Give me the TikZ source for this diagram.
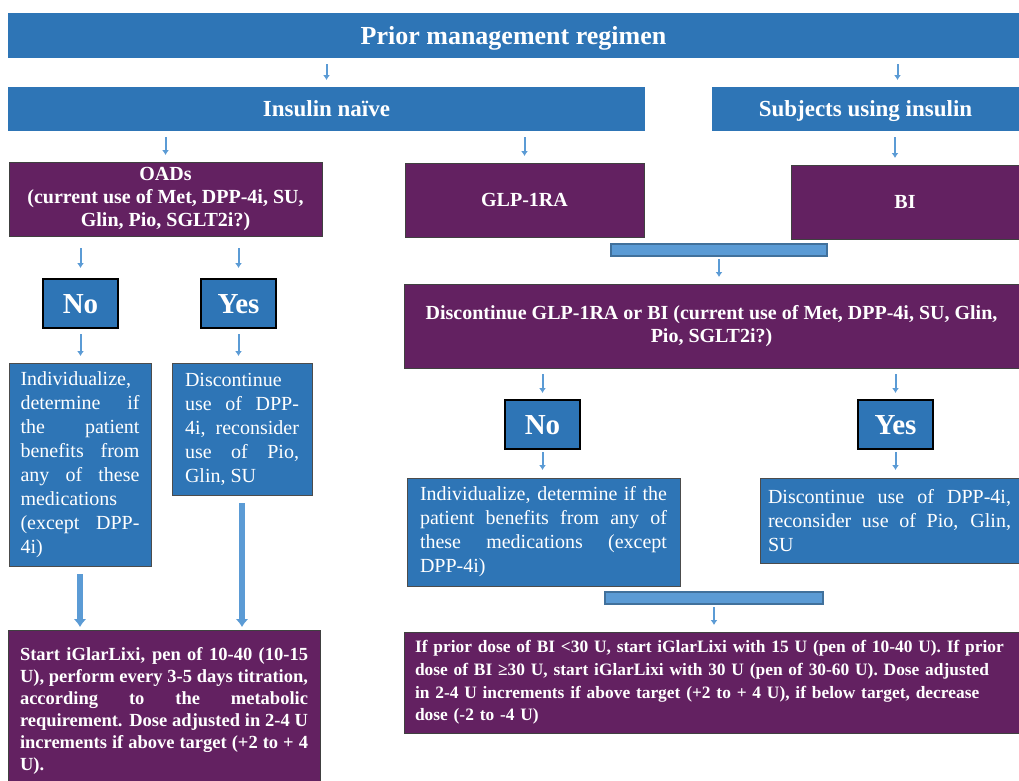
\documentclass[tikz,border=0pt]{standalone}
\usepackage{fontspec}
\setmainfont{Liberation Serif}
\usepackage{xcolor}
\usetikzlibrary{arrows.meta,positioning}

\definecolor{hblue}{RGB}{46,117,182}
\definecolor{lblue}{RGB}{91,155,213}
\definecolor{bblue}{RGB}{65,113,156}
\definecolor{purp}{RGB}{99,33,97}

\begin{document}
\begin{tikzpicture}[
    x=1pt, y=-1pt,
    every node/.style={anchor=north west, text=white, outer sep=0pt,
                       execute at begin node={\tolerance=10000\hyphenpenalty=10000\hbadness=10000}},
    head/.style={fill=hblue, inner sep=0pt, minimum height=44pt, text depth=0pt,
                 font=\bfseries\fontsize{23}{27}\selectfont},
    drug/.style={fill=purp, draw=black!75, line width=0.8pt, inner sep=0pt,
                 align=center, minimum height=74pt,
                 font=\bfseries\fontsize{20}{23.5}\selectfont},
    ans/.style={fill=hblue, draw=black, line width=2.5pt, inner sep=0pt,
                minimum width=75pt, minimum height=49pt, text depth=0pt,
                font=\bfseries\fontsize{29}{32}\selectfont},
    note/.style={fill=hblue, draw=black!70, line width=1pt, inner ysep=3pt,
                 align=justify, font=\fontsize{20}{24}\selectfont},
    bar/.style={fill=lblue, draw=bblue, line width=1.5pt, inner sep=0pt,
                minimum height=12pt},
    arr/.style={draw=lblue, line width=2pt, -{Latex[length=5pt,width=7pt]},
                shorten <=6pt, shorten >=7pt},
    fat/.style={draw=lblue, line width=6pt, -{Latex[length=8pt,width=13pt]},
                shorten <=8pt, shorten >=3pt}
  ]
  \path[use as bounding box, fill=white] (0,0) rectangle (1019,780);

  % top rows
  \node[head, minimum width=1011pt, minimum height=45pt,
        font=\bfseries\fontsize{26}{30}\selectfont] (prior) at (8,13) {Prior management regimen};
  \node[head, minimum width=637pt] (naive) at (8,87) {Insulin naïve};
  \node[head, minimum width=307pt] (subj) at (712,87) {Subjects using insulin};

  \node[drug, minimum width=313pt] (oads) at (9,162)
    {OADs\\(current use of Met, DPP-4i, SU,\\Glin, Pio, SGLT2i?)};
  \node[drug, minimum width=239pt] (glp) at (405,163) {GLP-1RA};
  \node[drug, minimum width=228pt] (bi) at (791,165) {BI};
  \node[bar, minimum width=216pt] (bar1) at (611,244) {};
  \node[drug, minimum width=615pt, minimum height=84pt] (disc) at (404,284)
    {Discontinue GLP-1RA or BI (current use of Met, DPP-4i, SU, Glin,\\Pio, SGLT2i?)};

  % left branch
  \node[ans] (noL) at (43,279) {No};
  \node[ans] (yesL) at (201,279) {Yes};
  \node[note, text width=119pt, inner xsep=11.5pt, minimum height=203pt] (indL) at (9,363)
    {Individualize,\linebreak determine if\linebreak the patient\linebreak benefits from\linebreak
     any of these\linebreak medications\linebreak (except DPP-\linebreak 4i)};
  \node[note, text width=114pt, inner xsep=13pt, minimum height=132pt] (discL) at (172,363)
    {Discontinue\linebreak use of DPP-\linebreak 4i, reconsider\linebreak use of Pio,\linebreak Glin, SU};
  \node[drug, align=justify, text width=288pt, inner xsep=12pt, minimum height=162pt,
        font=\bfseries\fontsize{18.5}{22}\selectfont] (start) at (8,630)
    {Start iGlarLixi, pen of 10-40 (10-15\linebreak U), perform every 3-5 days titration,\linebreak
     according to the metabolic\linebreak requirement. Dose adjusted in 2-4 U\linebreak
     increments if above target (+2 to + 4\linebreak U).};

  % right branch
  \node[ans] (noR) at (505,400) {No};
  \node[ans] (yesR) at (858,400) {Yes};
  \node[note, text width=247pt, inner xsep=13pt, minimum height=108pt] (indR) at (407,478)
    {Individualize, determine if the\linebreak patient benefits from any of\linebreak
     these medications (except\linebreak DPP-4i)};
  \node[note, text width=243pt, inner xsep=8pt, minimum height=85pt] (discR) at (760,478)
    {Discontinue use of DPP-4i,\linebreak reconsider use of Pio, Glin,\linebreak SU};
  \node[bar, minimum width=218pt] (bar2) at (605,592) {};
  \node[drug, align=left, text width=597pt, inner xsep=11pt, minimum height=101pt,
        font=\bfseries\fontsize{17.4}{22.7}\selectfont] (dose) at (404,632)
    {If prior dose of BI <30 U, start iGlarLixi with 15 U (pen of 10-40 U). If prior\\
     dose of BI ≥30 U, start iGlarLixi with 30 U (pen of 30-60 U). Dose adjusted\\
     in 2-4 U increments if above target (+2 to + 4 U), if below target, decrease\\
     dose (-2 to -4 U)};

  % connectors
  \draw[arr] (naive.north |- prior.south) -- (naive.north);
  \draw[arr] ([xshift=32pt]subj.north |- prior.south) -- ([xshift=32pt]subj.north);
  \draw[arr] (oads.north |- naive.south) -- (oads.north);
  \draw[arr] (glp.north |- naive.south) -- (glp.north);
  \draw[arr] ([xshift=-10pt]bi.north |- subj.south) -- ([xshift=-10pt]bi.north);
  \draw[arr, shorten <=12pt, shorten >=11pt] (noL.north |- oads.south) -- (noL.north);
  \draw[arr, shorten <=12pt, shorten >=11pt] (yesL.north |- oads.south) -- (yesL.north);
  \draw[arr] (noL.south) -- (noL.south |- indL.north);
  \draw[arr] (yesL.south) -- (yesL.south |- discL.north);
  \draw[fat] (indL.south) -- (indL.south |- start.north);
  \draw[fat] (discL.south) -- (discL.south |- start.north);
  \draw[arr, shorten <=3pt] (bar1.south) -- (bar1.south |- disc.north);
  \draw[arr] (noR.north |- disc.south) -- (noR.north);
  \draw[arr] (yesR.north |- disc.south) -- (yesR.north);
  \draw[arr, shorten <=3pt, shorten >=8pt] (noR.south) -- (noR.south |- indR.north);
  \draw[arr, shorten <=3pt, shorten >=8pt] (yesR.south) -- (yesR.south |- discR.north);
  \draw[arr, shorten <=3pt] (bar2.south) -- (bar2.south |- dose.north);
\end{tikzpicture}
\end{document}
